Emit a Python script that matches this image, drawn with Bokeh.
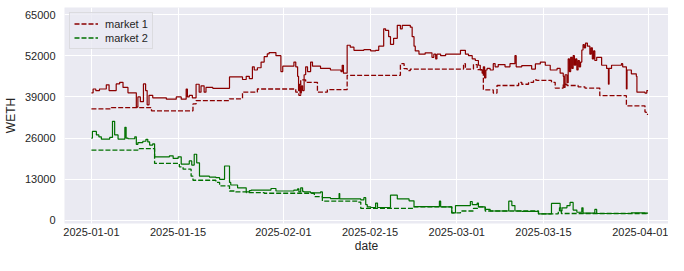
import pandas as pd
from bokeh.plotting import figure
from bokeh.models import FixedTicker, DatetimeTickFormatter, Range1d
from bokeh.embed import file_html
from bokeh.resources import INLINE

START = "2025-01-01"

# market 1 (solid = current, dashed = reference), day offsets from START
m1_solid_day = [0, 0.27, 0.7, 1.3, 2.4, 2.85, 4.0, 4.56, 5.1, 5.9, 7.25, 7.5, 7.9, 8.4, 8.75, 9.0, 9.3, 9.9,
                12.1, 13.7, 14.5, 15.3, 15.5, 15.8, 16.3, 16.9, 17.4, 17.7, 18.2, 18.5, 19.6, 22.3, 24.4, 25.0,
                25.5, 26.0, 26.3, 26.8, 27.4, 27.9, 28.4, 28.7, 29.8, 30.6, 30.9, 32.7, 33.0, 33.3, 33.45, 33.6,
                33.7, 33.9, 34.1, 34.35, 34.6, 34.9, 35.4, 35.7, 37.0, 38.6, 40.3, 40.5, 40.7, 41.3, 41.8, 42.4,
                44.0, 45.1, 45.9, 46.4, 47.2, 47.5, 48.0, 48.3, 48.8, 49.4, 49.9, 50.2, 51.5, 51.8, 52.1, 52.3,
                52.9, 53.9, 55.0, 55.3, 55.6, 55.8, 56.4, 57.2, 59.6, 60.4, 60.9, 61.5, 62.0, 62.5, 62.8, 63.1,
                63.3, 63.5, 63.7, 63.9, 64.4, 64.9, 65.2, 65.7, 66.8, 67.6, 68.4, 68.6, 69.5, 71.1, 71.7, 72.5,
                73.3, 74.1, 75.2, 75.7, 76.2, 76.3, 76.5, 76.8, 77.0, 77.2, 77.4, 77.6, 77.8, 78.0, 78.2, 78.4,
                78.6, 78.8, 79.0, 79.2, 79.4, 79.6, 79.8, 80.1, 80.5, 80.7, 80.9, 81.1, 81.3, 81.6, 82.4, 83.2,
                83.5, 83.6, 84.0, 85.6, 85.8, 86.4, 86.5, 87.2, 88.0, 88.1, 89.4, 89.7, 89.9]
m1_solid_val = [40300, 41500, 41000, 41500, 42800, 41000, 43100, 43600, 42000, 40300, 35800, 39000, 37500, 43100,
                41000, 36500, 39500, 38700, 38300, 39000, 38300, 41500, 39000, 39500, 38700, 43000, 40500, 42500,
                40500, 42000, 41700, 45300, 44500, 45500, 44800, 48500, 47500, 48200, 50000, 51700, 52600, 53000,
                52000, 47000, 48700, 50000, 48500, 45500, 41000, 43000, 40200, 42500, 41000, 46000, 48500, 47000,
                50000, 48700, 48000, 47500, 47000, 49000, 46500, 55300, 54700, 53700, 53900, 53500, 53700, 55000,
                60500, 60000, 58000, 55600, 57500, 61600, 60500, 61600, 61000, 58000, 55000, 53500, 52500, 52900,
                51500, 52500, 51000, 52500, 52000, 52500, 53700, 52500, 52000, 51000, 50500, 49000, 47500, 46500,
                48500, 45000, 47500, 48000, 47500, 49500, 48500, 49200, 48500, 49500, 52000, 48500, 48900, 47800,
                49400, 50000, 49000, 47500, 48000, 46500, 45500, 42000, 46000, 43500, 51000, 47000, 51500, 48000,
                52000, 49000, 51000, 47500, 50500, 48500, 50000, 53800, 55500, 54500, 56000, 55000, 52500, 54500,
                51000, 53500, 50500, 51500, 49000, 48000, 43000, 48000, 49000, 49500, 48500, 41500, 47500, 46300,
                45500, 40500, 40200, 41000, 41000]

m1_dash_day = [0, 3.2, 9.7, 16.4, 16.9, 22.3, 24.4, 26.8, 33.0, 33.5, 33.8, 34.6, 36.5, 38.1, 41.3, 49.9, 50.5,
               51.0, 51.5, 60.1, 60.4, 61.7, 62.3, 63.3, 64.9, 65.5, 69.0, 69.5, 70.6, 71.4, 71.9, 74.3, 74.9,
               76.2, 76.8, 78.6, 79.7, 82.1, 86.4, 89.4, 89.6, 89.9]
m1_dash_val = [35200, 35600, 34600, 36800, 37800, 38400, 40500, 41500, 40500, 39500, 44400, 43600, 40500, 41300,
               45800, 49500, 47900, 47300, 47800, 49500, 47800, 49200, 47600, 41200, 40200, 42600, 43600, 43000,
               43600, 44400, 44200, 43600, 41800, 43000, 42600, 42200, 41800, 39400, 36200, 34200, 33500, 33500]

# market 2
m2_solid_day = [0, 0.16, 0.8, 1.2, 1.6, 2.95, 3.4, 3.75, 4.3, 5.4, 5.6, 5.9, 7.0, 7.25, 7.5, 8.3, 8.8, 9.1, 9.4,
                9.9, 10.2, 12.6, 13.2, 14.0, 14.5, 15.8, 16.2, 16.6, 17.0, 17.45, 19.05, 20.1, 20.7, 21.5, 22.3,
                22.5, 23.6, 25.0, 25.5, 25.8, 29.0, 29.8, 32.7, 33.3, 33.5, 33.8, 34.1, 34.3, 35.4, 37.0, 37.3,
                38.6, 40.0, 40.1, 43.5, 44.0, 44.3, 44.55, 45.1, 45.9, 46.2, 48.3, 49.4, 51.3, 52.1, 56.2, 56.4,
                58.2, 58.8, 61.2, 61.5, 62.3, 62.5, 63.6, 64.4, 67.4, 67.9, 68.4, 69.5, 72.2, 74.3, 75.7, 76.0,
                76.8, 77.3, 77.8, 78.4, 79.2, 79.4, 81.3, 81.6, 87.2, 89.4, 89.9]
m2_solid_val = [26000, 28100, 27000, 26400, 25700, 26200, 31300, 27000, 25700, 29400, 26000, 25800, 26400, 24000,
                24600, 25000, 25600, 24800, 23800, 24200, 20100, 20400, 19600, 20100, 17800, 18800, 17500, 20900,
                18200, 14000, 13700, 13500, 13000, 17200, 12000, 11200, 10300, 9000, 9400, 9600, 10100, 9300,
                9600, 10000, 9000, 10300, 9200, 9000, 8700, 9000, 7200, 6900, 8500, 6800, 6500, 7200, 5000, 4300,
                4100, 5500, 4100, 8000, 6800, 6200, 4400, 6100, 4300, 2400, 4700, 6000, 5000, 5500, 4300, 3500,
                3000, 6100, 4700, 3000, 2900, 2100, 5400, 3000, 4000, 4700, 5700, 3300, 2600, 4000, 2300, 3500,
                2200, 2400, 2300, 2300]

m2_dash_day = [0, 7.5, 10.2, 14.2, 14.8, 16.1, 16.4, 20.1, 20.7, 22.3, 23.3, 25.0, 27.9, 36.0, 37.3, 42.9, 43.5,
               52.1, 58.2, 59.6, 61.7, 62.5, 63.6, 72.2, 75.4, 75.6, 75.9, 89.9]
m2_dash_val = [22200, 22700, 18000, 16900, 16200, 14000, 12700, 12000, 10900, 9300, 9000, 8800, 8600, 7500, 6100,
               5800, 3800, 4300, 2400, 3000, 3800, 4300, 3000, 2100, 3000, 4000, 2200, 2200]

y_ticks = [0, 13000, 26000, 39000, 52000, 65000]
x_ticks = ["2025-01-01", "2025-01-15", "2025-02-01", "2025-02-15", "2025-03-01", "2025-03-15", "2025-04-01"]

start = pd.Timestamp(START)


def to_dt(days):
    return [start + pd.Timedelta(days=d) for d in days]


TEXT = "#262626"
FONT = "Liberation Sans"

p = figure(width=668, height=255, x_axis_type="datetime", output_backend="svg",
           toolbar_location=None, tools="",
           x_range=Range1d(start - pd.Timedelta(days=4.35), start + pd.Timedelta(days=93.2)),
           y_range=Range1d(-951, 67220),
           min_border_left=63, min_border_right=0, min_border_top=7, min_border_bottom=31,
           background_fill_color="#EAEAF2", border_fill_color="white")
p.outline_line_color = None

p.step(to_dt(m1_solid_day), m1_solid_val, mode="after", line_color="#8B0000", line_width=1.2)
p.step(to_dt(m1_dash_day), m1_dash_val, mode="after", line_color="#8B0000", line_width=1.3,
       line_dash="5 2", legend_label="market 1")
p.step(to_dt(m2_solid_day), m2_solid_val, mode="after", line_color="#007000", line_width=1.2)
p.step(to_dt(m2_dash_day), m2_dash_val, mode="after", line_color="#007000", line_width=1.3,
       line_dash="5 2", legend_label="market 2")

p.xaxis.ticker = FixedTicker(ticks=[pd.Timestamp(t).value // 10**6 for t in x_ticks])
fmt = "%Y-%m-%d"
p.xaxis.formatter = DatetimeTickFormatter(milliseconds=fmt, seconds=fmt, minsec=fmt, minutes=fmt,
                                          hourmin=fmt, hours=fmt, days=fmt, months=fmt, years=fmt)
p.yaxis.ticker = FixedTicker(ticks=y_ticks)

for ax in (p.xaxis, p.yaxis):
    ax.axis_line_color = None
    ax.major_tick_line_color = None
    ax.minor_tick_line_color = None
    ax.major_tick_out = 0
    ax.major_tick_in = 0
    ax.minor_tick_out = 0
    ax.minor_tick_in = 0
    ax.major_label_text_font = FONT
    ax.major_label_text_font_size = "11px"
    ax.major_label_text_color = TEXT
    ax.axis_label_text_font = FONT
    ax.axis_label_text_font_size = "12px"
    ax.axis_label_text_font_style = "normal"
    ax.axis_label_text_color = TEXT

p.xaxis.axis_label = "date"
p.yaxis.axis_label = "WETH"
p.xaxis.major_label_standoff = 4
p.xaxis.axis_label_standoff = 0
p.yaxis.major_label_standoff = 9
p.yaxis.axis_label_standoff = 4

p.xgrid.grid_line_color = "white"
p.ygrid.grid_line_color = "white"
p.xgrid.grid_line_width = 1
p.ygrid.grid_line_width = 1

lg = p.legend[0]
lg.location = "top_left"
lg.margin = 5
lg.padding = 4
lg.spacing = 1
lg.glyph_width = 24
lg.glyph_height = 13
lg.label_height = 13
lg.label_width = 10
lg.label_standoff = 7
lg.label_text_font = FONT
lg.label_text_font_size = "11px"
lg.label_text_color = TEXT
lg.background_fill_color = "#EAEAF2"
lg.background_fill_alpha = 0.8
lg.border_line_color = "#cccccc"
lg.border_line_width = 1

open("out.html", "w").write(file_html(p, INLINE))
